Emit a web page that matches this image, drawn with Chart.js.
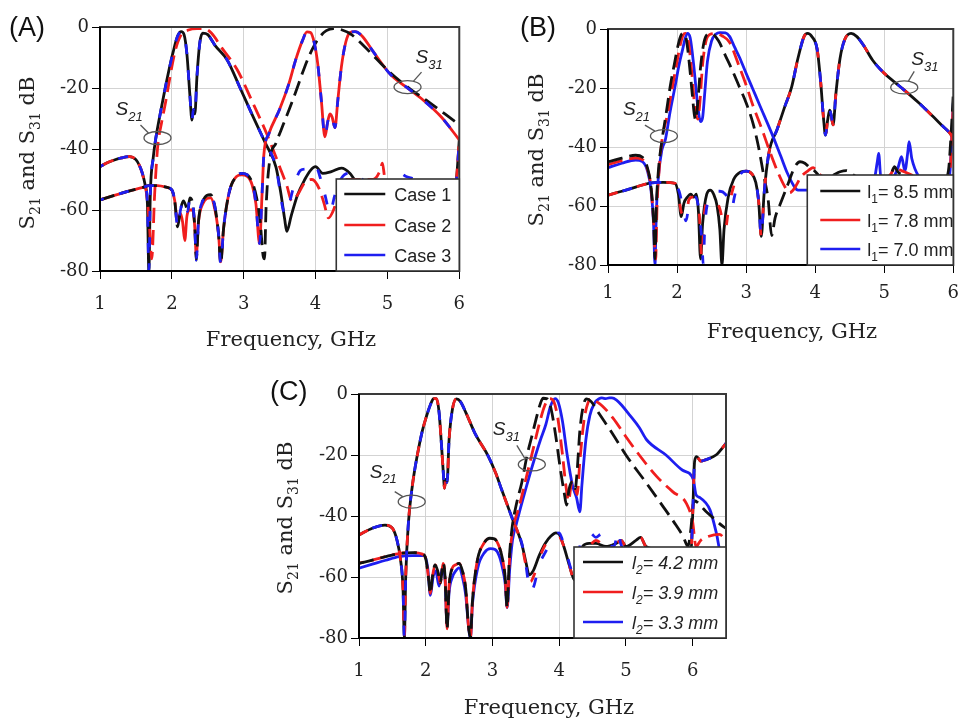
<!DOCTYPE html>
<html lang="en">
<head>
<meta charset="UTF-8" />
<title>S21 and S31 responses</title>
<script src="https://cdn.jsdelivr.net/npm/chart.js"></script>
<style>
  body { margin: 0; background: #fff; }
  .panel { position: absolute; }
  canvas { display: block; }
</style>
</head>
<body>
<div class="panel" style="left:0;top:0"><canvas id="chartA" width="480" height="360"></canvas></div>
<div class="panel" style="left:490px;top:0"><canvas id="chartB" width="479" height="360"></canvas></div>
<div class="panel" style="left:260px;top:360px"><canvas id="chartC" width="480" height="358"></canvas></div>

<script>
// ---- data: [frequency GHz, dB] ----

// (A) Case 1 / 2 / 3
const aS21Case1 = [[1.0,-45.8],[1.1,-44.5],[1.2,-43.6],[1.3,-42.9],[1.41,-42.5],[1.5,-43.5],[1.55,-45.5],[1.59,-48],[1.63,-52],[1.66,-58],[1.68,-80],[1.7,-55],[1.74,-43],[1.78,-36],[1.85,-27],[1.95,-15.2],[2.02,-8],[2.08,-3],[2.13,-1.5],[2.17,-2.5],[2.21,-9],[2.25,-22],[2.28,-30.5],[2.3,-27],[2.32,-28.5],[2.35,-16],[2.39,-5],[2.43,-2],[2.5,-2.5],[2.6,-6],[2.77,-10.8],[2.95,-20],[3.13,-29.4],[3.3,-38],[3.45,-46],[3.52,-55],[3.57,-63],[3.6,-67],[3.66,-62],[3.75,-55],[3.85,-50],[3.93,-47],[4.0,-45.8],[4.1,-48],[4.22,-47.4],[4.36,-46.3],[4.48,-48],[4.6,-52],[4.8,-55],[5.1,-57],[5.4,-56],[5.7,-55],[5.9,-54],[5.96,-50],[6.0,-37]];
const aS21Case2 = [[1.0,-45.8],[1.1,-44.5],[1.2,-43.6],[1.3,-42.9],[1.41,-42.5],[1.5,-43.5],[1.56,-46],[1.61,-50],[1.66,-57],[1.69,-66],[1.72,-76],[1.76,-55],[1.8,-40],[1.86,-31],[1.91,-25],[2.0,-13],[2.05,-7.5],[2.12,-3],[2.23,-1],[2.35,-0.5],[2.45,-0.5],[2.55,-2],[2.7,-7],[2.91,-14],[3.1,-23.5],[3.32,-35],[3.5,-45.8],[3.6,-52],[3.67,-57],[3.75,-55],[3.85,-51],[3.95,-50],[4.05,-53],[4.12,-58],[4.18,-62.6],[4.25,-60],[4.33,-54],[4.42,-50],[4.6,-50],[4.8,-50],[4.9,-47],[4.93,-44.6],[4.96,-49],[5.05,-55],[5.3,-57],[5.6,-56],[5.9,-54],[5.96,-50],[6.0,-37]];
const aS21Case3 = [[1.0,-45.8],[1.1,-44.5],[1.2,-43.6],[1.3,-42.9],[1.41,-42.5],[1.5,-43.5],[1.55,-45.5],[1.59,-48],[1.63,-52],[1.66,-58],[1.68,-80],[1.7,-55],[1.74,-43],[1.78,-36],[1.85,-27],[1.95,-15.2],[2.02,-8],[2.08,-3],[2.13,-1.5],[2.17,-2.5],[2.21,-9],[2.25,-22],[2.28,-30.5],[2.3,-27],[2.32,-28.5],[2.35,-16],[2.39,-5],[2.43,-2],[2.5,-2.5],[2.6,-6],[2.77,-10.8],[2.95,-20],[3.13,-29.4],[3.3,-38],[3.45,-46],[3.5,-53],[3.54,-59],[3.57,-61],[3.62,-59],[3.7,-52],[3.79,-47],[3.87,-46.5],[3.93,-46],[4.0,-45.5],[4.06,-49],[4.13,-55],[4.2,-60.6],[4.27,-55],[4.35,-50],[4.45,-48],[4.55,-48],[4.65,-50],[4.8,-52],[5.0,-53],[5.1,-50],[5.18,-48],[5.26,-49],[5.4,-50],[5.6,-52],[5.9,-52],[5.96,-50],[6.0,-37]];
const aS31Case1 = [[1.0,-56.7],[1.2,-55.2],[1.4,-53.8],[1.6,-52.6],[1.68,-52],[1.8,-52],[1.92,-52.5],[2.0,-53.4],[2.04,-57],[2.08,-65.5],[2.12,-60],[2.16,-57],[2.2,-59],[2.22,-60.5],[2.25,-56],[2.29,-58],[2.32,-66],[2.34,-76.4],[2.37,-64],[2.43,-57],[2.54,-55],[2.6,-59],[2.65,-68],[2.68,-77.5],[2.72,-66],[2.8,-54],[2.9,-49],[2.97,-48],[3.05,-48.5],[3.12,-51],[3.18,-56],[3.23,-64],[3.27,-75],[3.29,-76],[3.31,-60],[3.36,-44],[3.45,-38],[3.55,-32],[3.65,-26],[3.75,-19.6],[3.85,-13],[3.95,-7.5],[4.05,-3.5],[4.15,-1.2],[4.25,-0.5],[4.35,-0.8],[4.5,-2.5],[4.68,-6.4],[4.85,-10.5],[5.04,-15],[5.3,-20],[5.54,-24],[5.8,-28.5],[6.0,-32]];
const aS31Case2 = [[1.0,-56.7],[1.2,-55.2],[1.4,-53.8],[1.6,-52.6],[1.68,-52],[1.8,-52],[1.92,-52.5],[2.0,-53.5],[2.04,-57],[2.08,-64],[2.12,-61],[2.15,-64],[2.18,-70],[2.21,-62],[2.25,-60],[2.29,-60],[2.32,-66],[2.34,-75],[2.37,-64],[2.43,-58],[2.54,-56],[2.6,-60],[2.65,-68],[2.68,-77],[2.72,-66],[2.8,-54],[2.9,-49],[2.97,-48.5],[3.05,-49],[3.12,-52],[3.17,-58],[3.22,-71],[3.255,-55],[3.28,-42],[3.35,-35],[3.5,-27],[3.63,-18.5],[3.72,-11],[3.82,-4.3],[3.88,-1.6],[3.93,-1.8],[3.98,-5],[4.03,-12],[4.08,-24],[4.13,-36],[4.17,-31],[4.2,-28.5],[4.23,-29.5],[4.27,-33],[4.31,-24],[4.36,-13],[4.42,-5],[4.48,-1.8],[4.55,-1.5],[4.65,-3],[4.8,-8],[5.04,-15.5],[5.25,-19.5],[5.5,-24],[5.75,-29.5],[6.0,-37]];
const aS31Case3 = [[1.0,-56.7],[1.2,-55.2],[1.4,-53.8],[1.6,-52.6],[1.68,-52],[1.8,-52],[1.92,-52.5],[2.0,-53.4],[2.04,-57],[2.08,-65.5],[2.12,-60],[2.16,-57],[2.2,-59],[2.22,-60.5],[2.25,-56],[2.29,-58],[2.32,-66],[2.34,-76.4],[2.37,-64],[2.43,-57],[2.54,-55],[2.6,-59],[2.65,-68],[2.68,-77.5],[2.72,-66],[2.8,-54],[2.9,-49],[2.97,-48],[3.05,-48.5],[3.12,-51],[3.17,-58],[3.22,-71],[3.255,-55],[3.28,-42],[3.35,-35],[3.5,-27],[3.63,-18.5],[3.72,-11],[3.82,-4.3],[3.88,-1.6],[3.93,-1.8],[3.98,-5],[4.03,-12],[4.08,-24],[4.13,-36],[4.17,-31],[4.2,-28.5],[4.23,-29.5],[4.27,-33],[4.31,-24],[4.36,-13],[4.42,-5],[4.48,-1.8],[4.55,-1.5],[4.65,-3],[4.8,-8],[5.04,-15.5],[5.25,-19.5],[5.5,-24],[5.75,-29.5],[6.0,-37]];

// (B) l1 = 8.5 / 7.8 / 7.0 mm
const bS21Case1 = [[1.0,-45],[1.2,-43.8],[1.4,-42.8],[1.5,-43.5],[1.57,-47],[1.62,-53],[1.66,-65],[1.68,-78],[1.7,-60],[1.73,-48],[1.78,-38],[1.84,-29],[1.9,-19.6],[1.96,-12],[2.02,-5],[2.06,-2],[2.09,-1.5],[2.13,-3],[2.17,-10],[2.22,-22],[2.25,-29],[2.27,-30.8],[2.3,-25],[2.34,-13],[2.39,-4.5],[2.44,-1.8],[2.5,-1.6],[2.6,-4],[2.7,-9],[2.8,-14],[2.9,-19.5],[3.0,-25],[3.1,-32],[3.18,-40],[3.25,-49],[3.32,-58],[3.37,-70],[3.42,-64],[3.5,-59],[3.6,-53],[3.7,-47],[3.78,-45],[3.85,-45.5],[3.92,-47],[3.98,-47.8],[4.08,-50],[4.2,-50],[4.36,-48.4],[4.45,-48],[4.59,-50],[4.75,-51],[5.0,-51],[5.1,-49],[5.15,-46.7],[5.2,-48.5],[5.35,-50],[5.6,-52],[5.85,-52],[5.93,-48],[5.97,-35],[6.0,-22]];
const bS21Case2 = [[1.0,-46],[1.2,-44.6],[1.4,-43.8],[1.5,-44.3],[1.57,-47.5],[1.62,-53],[1.66,-65],[1.69,-78],[1.71,-60],[1.74,-48],[1.78,-38],[1.86,-29],[1.93,-20],[2.0,-11],[2.05,-5],[2.09,-2],[2.12,-1.5],[2.16,-3.5],[2.21,-14],[2.26,-27],[2.3,-30.5],[2.33,-25],[2.37,-12],[2.42,-4],[2.48,-1.8],[2.56,-1.5],[2.65,-2.3],[2.76,-4.5],[2.9,-12.7],[3.0,-19],[3.1,-26],[3.23,-34],[3.35,-42],[3.45,-48],[3.55,-53],[3.63,-55.5],[3.7,-54],[3.8,-50],[3.9,-48],[3.97,-47],[4.05,-49],[4.2,-51],[4.36,-50],[4.5,-50],[4.7,-51],[5.0,-51],[5.1,-49],[5.15,-47],[5.25,-48],[5.35,-49],[5.45,-50],[5.7,-52],[5.9,-52],[5.95,-49],[6.0,-25]];
const bS21Case3 = [[1.0,-47],[1.2,-45.5],[1.4,-44.4],[1.5,-45],[1.57,-48],[1.62,-54],[1.66,-66],[1.68,-80],[1.7,-62],[1.73,-50],[1.78,-41],[1.83,-37.6],[1.9,-28],[1.97,-19.6],[2.03,-12],[2.08,-7],[2.12,-3],[2.15,-1.5],[2.19,-3],[2.24,-12],[2.3,-26],[2.34,-31.4],[2.37,-30],[2.4,-22],[2.44,-11],[2.5,-4],[2.56,-1.8],[2.62,-1.2],[2.7,-1.3],[2.76,-2.5],[2.83,-6],[2.9,-9.4],[3.0,-15],[3.1,-20.5],[3.2,-26],[3.37,-35.3],[3.5,-43],[3.6,-49],[3.7,-53.5],[3.75,-54.6],[3.85,-54.6],[3.95,-54.5],[4.05,-54],[4.2,-52.5],[4.4,-51],[4.6,-51],[4.85,-51],[4.9,-45],[4.92,-42.2],[4.95,-50],[5.1,-51],[5.2,-47],[5.25,-43.3],[5.3,-48],[5.34,-42],[5.36,-38.2],[5.4,-44],[5.5,-50],[5.7,-53],[5.9,-53],[5.95,-49],[6.0,-25]];
const bS31Case1 = [[1.0,-56.3],[1.2,-55],[1.4,-53.6],[1.59,-52.3],[1.8,-52],[1.97,-52.3],[2.02,-56],[2.06,-63.6],[2.1,-59],[2.15,-57],[2.2,-56],[2.24,-57],[2.28,-56],[2.31,-62],[2.34,-78],[2.37,-66],[2.43,-56],[2.48,-54.6],[2.53,-56],[2.58,-60],[2.62,-68],[2.65,-80],[2.68,-68],[2.74,-57],[2.82,-51],[2.92,-48.5],[3.0,-48.2],[3.08,-49],[3.14,-52],[3.18,-58],[3.22,-70.3],[3.26,-56],[3.33,-42],[3.45,-34],[3.55,-27],[3.66,-19.6],[3.75,-10],[3.84,-2.5],[3.89,-1.5],[3.95,-2.5],[4.03,-7],[4.08,-18],[4.12,-30],[4.15,-36],[4.18,-31],[4.21,-27.5],[4.23,-29],[4.26,-32.5],[4.3,-22],[4.36,-10],[4.43,-3.5],[4.52,-1.5],[4.6,-2.5],[4.7,-5.5],[4.83,-10.5],[5.0,-15],[5.15,-18],[5.29,-20.7],[5.5,-25],[5.7,-29.5],[5.85,-33],[5.95,-35.3],[6.0,-37]];
const bS31Case2 = [[1.0,-56.3],[1.2,-55],[1.4,-53.6],[1.59,-52.3],[1.8,-52],[1.97,-52.3],[2.02,-56],[2.06,-62],[2.1,-63],[2.13,-64],[2.17,-58],[2.22,-57],[2.27,-57],[2.32,-62],[2.36,-78],[2.39,-64],[2.44,-58],[2.5,-57.5],[2.56,-58],[2.62,-61],[2.67,-66],[2.7,-68],[2.74,-62],[2.8,-55],[2.9,-49],[3.0,-48.2],[3.08,-49],[3.14,-52],[3.18,-58],[3.22,-70.3],[3.26,-56],[3.33,-42],[3.45,-34],[3.55,-27],[3.66,-19.6],[3.75,-10],[3.84,-2.5],[3.89,-1.5],[3.95,-2.5],[4.03,-7],[4.08,-18],[4.12,-30],[4.15,-36],[4.18,-31],[4.21,-27.5],[4.23,-29],[4.26,-32.5],[4.3,-22],[4.36,-10],[4.43,-3.5],[4.52,-1.5],[4.6,-2.5],[4.7,-5.5],[4.83,-10.5],[5.0,-15],[5.15,-18],[5.29,-20.7],[5.5,-25],[5.7,-29.5],[5.85,-33],[5.95,-35.3],[6.0,-37]];
const bS31Case3 = [[1.0,-56.3],[1.2,-55],[1.4,-53.6],[1.59,-52.3],[1.8,-52],[1.97,-52.5],[2.03,-55],[2.08,-60],[2.13,-65],[2.17,-60],[2.22,-57],[2.27,-57],[2.32,-62],[2.36,-72],[2.38,-80],[2.4,-68],[2.45,-58],[2.5,-56],[2.56,-55],[2.62,-55],[2.7,-56],[2.75,-58],[2.79,-61],[2.83,-57],[2.9,-50],[3.0,-48.2],[3.08,-49],[3.14,-52],[3.18,-58],[3.22,-70.3],[3.26,-56],[3.33,-42],[3.45,-34],[3.55,-27],[3.66,-19.6],[3.75,-10],[3.84,-2.5],[3.89,-1.5],[3.95,-2.5],[4.03,-7],[4.08,-18],[4.12,-30],[4.15,-36],[4.18,-31],[4.21,-27.5],[4.23,-29],[4.26,-32.5],[4.3,-22],[4.36,-10],[4.43,-3.5],[4.52,-1.5],[4.6,-2.5],[4.7,-5.5],[4.83,-10.5],[5.0,-15],[5.15,-18],[5.29,-20.7],[5.5,-25],[5.7,-29.5],[5.85,-33],[5.95,-35.3],[6.0,-37]];

// (C) l2 = 4.2 / 3.9 / 3.3 mm
const cS21Case1 = [[1.0,-46.2],[1.2,-44],[1.39,-43],[1.5,-44],[1.57,-48],[1.62,-54],[1.66,-64],[1.68,-80],[1.7,-60],[1.74,-42.4],[1.8,-30],[1.87,-20.5],[1.95,-12],[2.01,-7.4],[2.07,-3.5],[2.12,-1.5],[2.16,-1.5],[2.2,-6],[2.24,-18],[2.27,-28],[2.28,-30.9],[2.3,-28],[2.32,-29],[2.35,-15],[2.4,-5],[2.46,-1.6],[2.52,-2.5],[2.6,-6],[2.74,-13],[2.94,-20.5],[3.05,-26],[3.14,-31.5],[3.29,-40.4],[3.44,-49.2],[3.5,-55],[3.55,-59.3],[3.61,-58],[3.7,-53],[3.79,-49],[3.88,-46.5],[3.95,-45.5],[4.0,-46],[4.07,-50],[4.15,-56],[4.23,-61],[4.29,-56],[4.35,-50],[4.45,-49],[4.55,-49],[4.7,-50],[4.85,-49],[4.93,-48],[5.0,-50],[5.15,-48],[5.22,-47],[5.3,-50],[5.5,-51],[5.7,-51],[5.9,-51],[5.98,-50],[6.0,-40],[6.03,-22],[6.06,-20.5],[6.12,-22],[6.2,-21.5],[6.35,-20],[6.5,-16.2]];
const cS21Case2 = [[1.0,-46.2],[1.2,-44],[1.39,-43],[1.5,-44],[1.57,-48],[1.62,-54],[1.66,-64],[1.68,-80],[1.7,-60],[1.74,-42.4],[1.8,-30],[1.87,-20.5],[1.95,-12],[2.01,-7.4],[2.07,-3.5],[2.12,-1.5],[2.16,-1.5],[2.2,-6],[2.24,-18],[2.27,-28],[2.28,-30.9],[2.3,-28],[2.32,-29],[2.35,-15],[2.4,-5],[2.46,-1.6],[2.52,-2.5],[2.6,-6],[2.74,-13],[2.94,-20.5],[3.05,-26],[3.14,-31.5],[3.29,-40.4],[3.44,-49.5],[3.5,-56],[3.57,-61.5],[3.63,-59],[3.7,-54],[3.79,-49.5],[3.88,-47],[3.95,-46],[4.0,-46.5],[4.07,-50],[4.15,-56],[4.23,-61],[4.29,-56],[4.35,-50],[4.45,-49.5],[4.55,-48],[4.7,-50],[4.85,-49],[4.93,-48],[5.0,-50],[5.15,-48],[5.22,-47],[5.3,-50],[5.5,-51],[5.7,-51],[5.9,-51],[5.98,-50],[6.0,-40],[6.03,-22],[6.06,-20.5],[6.12,-22],[6.2,-21.5],[6.35,-20],[6.5,-16.2]];
const cS21Case3 = [[1.0,-46.2],[1.2,-44],[1.39,-43],[1.5,-44],[1.57,-48],[1.62,-54],[1.66,-64],[1.68,-80],[1.7,-60],[1.74,-42.4],[1.8,-30],[1.87,-20.5],[1.95,-12],[2.01,-7.4],[2.07,-3.5],[2.12,-1.5],[2.16,-1.5],[2.2,-6],[2.24,-18],[2.27,-28],[2.28,-30.9],[2.3,-28],[2.32,-29],[2.35,-15],[2.4,-5],[2.46,-1.6],[2.52,-2.5],[2.6,-6],[2.74,-13],[2.94,-20.5],[3.05,-26],[3.14,-31.5],[3.29,-40.4],[3.44,-49],[3.5,-56],[3.57,-64.8],[3.62,-63],[3.7,-56],[3.8,-51.6],[3.88,-48],[3.95,-46],[4.0,-45.5],[4.05,-48],[4.12,-53],[4.2,-58],[4.25,-57],[4.32,-49],[4.4,-46],[4.47,-45.7],[4.55,-47],[4.62,-46],[4.71,-45.5],[4.75,-49],[4.82,-50],[4.87,-46],[4.89,-44.6],[4.92,-49],[5.0,-51],[5.3,-52],[5.6,-52],[5.9,-52],[5.98,-50],[6.0,-40],[6.03,-22],[6.06,-20.5],[6.12,-22],[6.2,-21.5],[6.35,-20],[6.5,-16.2]];
const cS31Case1 = [[1.0,-55.5],[1.2,-54.5],[1.4,-53.3],[1.6,-52.3],[1.8,-52],[1.95,-52.5],[2.0,-54],[2.04,-60],[2.07,-65.4],[2.1,-60],[2.14,-56],[2.18,-58],[2.22,-62],[2.26,-55.5],[2.29,-60],[2.32,-77],[2.35,-63],[2.4,-57],[2.45,-56],[2.5,-55.5],[2.55,-58],[2.6,-64],[2.64,-76],[2.67,-80],[2.7,-68],[2.77,-55],[2.87,-49],[2.96,-47.3],[3.03,-47.5],[3.1,-50],[3.15,-54],[3.19,-60],[3.22,-70],[3.25,-55],[3.29,-44.6],[3.36,-36],[3.44,-29],[3.52,-20],[3.6,-13],[3.68,-6],[3.72,-3],[3.76,-1.4],[3.82,-1.6],[3.88,-5],[3.95,-14],[4.02,-25],[4.08,-33],[4.11,-36.4],[4.15,-31],[4.2,-28.7],[4.24,-31],[4.27,-25],[4.31,-12],[4.36,-4],[4.41,-1.6],[4.48,-2.5],[4.6,-6.5],[4.8,-13],[5.0,-20],[5.3,-29],[5.56,-37],[5.72,-42],[5.86,-46.8],[5.93,-50],[5.97,-45],[6.02,-35],[6.2,-38.5],[6.46,-43.5],[6.5,-44]];
const cS31Case2 = [[1.0,-55.5],[1.2,-54.5],[1.4,-53.3],[1.6,-52.3],[1.8,-52],[1.95,-52.5],[2.0,-54],[2.04,-60],[2.07,-65.4],[2.1,-60],[2.14,-56],[2.18,-58],[2.22,-62],[2.26,-55.5],[2.29,-60],[2.32,-77],[2.35,-63],[2.4,-57],[2.45,-56],[2.5,-55.5],[2.55,-58],[2.6,-64],[2.64,-76],[2.67,-80],[2.7,-68],[2.77,-55],[2.87,-49],[2.96,-47.3],[3.03,-47.5],[3.1,-50],[3.15,-54],[3.19,-60],[3.22,-70],[3.26,-53],[3.31,-44],[3.4,-37],[3.5,-28],[3.6,-19],[3.7,-10],[3.78,-4],[3.86,-1.5],[3.92,-2.5],[3.98,-8],[4.05,-20],[4.1,-30],[4.14,-35],[4.19,-29],[4.23,-30],[4.27,-33],[4.31,-22],[4.37,-9],[4.43,-3],[4.49,-1.5],[4.56,-2.5],[4.65,-4],[4.81,-8],[5.0,-14],[5.2,-20],[5.46,-27],[5.7,-32],[5.91,-36],[6.0,-42],[6.05,-50],[6.12,-48],[6.2,-47],[6.4,-46],[6.5,-48]];
const cS31Case3 = [[1.0,-57.1],[1.2,-55.8],[1.4,-54.5],[1.6,-53.3],[1.8,-53],[1.98,-53],[2.03,-57],[2.07,-66],[2.11,-60],[2.15,-58],[2.2,-63],[2.25,-57],[2.29,-61],[2.32,-76],[2.35,-65],[2.4,-60],[2.45,-58],[2.5,-57],[2.55,-60],[2.6,-66],[2.64,-76],[2.67,-80],[2.7,-69],[2.78,-57],[2.88,-52],[2.97,-50.7],[3.04,-51],[3.1,-53],[3.15,-57],[3.19,-62],[3.22,-70],[3.26,-57],[3.3,-48],[3.36,-42.4],[3.5,-31],[3.64,-20.5],[3.72,-15],[3.8,-10],[3.87,-4],[3.94,-1.5],[3.99,-3],[4.05,-9],[4.12,-20],[4.2,-30],[4.26,-34],[4.31,-38.6],[4.34,-30],[4.4,-15],[4.46,-7],[4.53,-3],[4.6,-1.5],[4.64,-1.3],[4.7,-1.5],[4.75,-1.3],[4.79,-1.3],[4.86,-2],[4.95,-4],[5.06,-7],[5.2,-11],[5.31,-15],[5.6,-20],[5.85,-25],[6.01,-28],[6.05,-33],[6.11,-34],[6.26,-38],[6.36,-46],[6.42,-52],[6.5,-52]];

// axis ticks and labels
const xTicksStep = 1;
const yTicks = [-80, -60, -40, -20, 0];
const yTitleParts = [{t:'S'},{t:'21',sub:true},{t:' and S'},{t:'31',sub:true},{t:' dB'}];
const xTitle = 'Frequency, GHz';
const legendA = [[{t:'Case 1'}],[{t:'Case 2'}],[{t:'Case 3'}]];
const legendB = [[{t:'l'},{t:'1',sub:true},{t:'= 8.5 mm'}],[{t:'l'},{t:'1',sub:true},{t:'= 7.8 mm'}],[{t:'l'},{t:'1',sub:true},{t:'= 7.0 mm'}]];
const legendC = [[{t:'l'},{t:'2',sub:true},{t:'= 4.2 mm'}],[{t:'l'},{t:'2',sub:true},{t:'= 3.9 mm'}],[{t:'l'},{t:'2',sub:true},{t:'= 3.3 mm'}]];
// ellipse callouts in data coordinates
const notesA = [{f:1.8, db:-36.4, sub:'21'}, {f:5.28, db:-19.7, sub:'31'}];
const notesB = [{f:1.81, db:-36.3, sub:'21'}, {f:5.29, db:-19.8, sub:'31'}];
const notesC = [{f:1.79, db:-35.3, sub:'21'}, {f:3.59, db:-23.1, sub:'31'}];

const BLACK = '#111', RED = '#f01e1e', BLUE = '#1e1ef0';
const SERIF = '"DejaVu Serif", serif', SANS = '"Liberation Sans", Arial, sans-serif';

function measureParts(ctx, parts, size, fam, style) {
  let w = 0;
  parts.forEach(p => {
    ctx.font = style + ' ' + (p.sub ? Math.round(size * 0.68) : size) + 'px ' + fam;
    w += ctx.measureText(p.t).width;
  });
  return w;
}
function drawParts(ctx, parts, x, y, size, fam, style) {
  let cx = x;
  parts.forEach(p => {
    ctx.font = style + ' ' + (p.sub ? Math.round(size * 0.68) : size) + 'px ' + fam;
    ctx.fillText(p.t, cx, p.sub ? y + size * 0.3 : y);
    cx += ctx.measureText(p.t).width;
  });
}

const decor = {
  id: 'decor',
  afterDatasetsDraw(chart, args, o) {
    const {ctx, chartArea: a, scales: {x, y}} = chart;
    ctx.save();
    ctx.textBaseline = 'alphabetic';
    // frame
    ctx.lineWidth = 2;
    ctx.strokeStyle = '#3a3a3a';
    ctx.strokeRect(a.left, a.top, a.right - a.left, a.bottom - a.top);
    ctx.strokeStyle = '#000';
    ctx.beginPath();
    ctx.moveTo(a.left, a.top); ctx.lineTo(a.left, a.bottom); ctx.lineTo(a.right, a.bottom);
    ctx.stroke();

    // callouts
    o.notes.forEach((n, i) => {
      const g = o.noteGeo[i];
      const cx = x.getPixelForValue(n.f), cy = y.getPixelForValue(n.db);
      ctx.strokeStyle = '#555';
      ctx.lineWidth = 1.3;
      ctx.beginPath();
      ctx.ellipse(cx, cy, 13.5, 6.5, 0, 0, Math.PI * 2);
      ctx.stroke();
      ctx.beginPath();
      ctx.moveTo(cx + g.lead[0], cy + g.lead[1]);
      ctx.lineTo(cx + g.lead[2], cy + g.lead[3]);
      ctx.stroke();
      ctx.fillStyle = '#222';
      drawParts(ctx, [{t:'S'},{t:n.sub,sub:true}], cx + g.dx, cy + g.dy, 19, SANS, 'italic');
    });

    // legend box (bottom-right inside plot)
    const L = o.legend;
    const lx = a.right - L.w, ly = a.bottom - L.h;
    ctx.fillStyle = '#fff';
    ctx.fillRect(lx, ly, L.w, L.h);
    ctx.lineWidth = 1.6;
    ctx.strokeStyle = '#333';
    ctx.strokeRect(lx, ly, L.w, L.h);
    L.items.forEach((parts, i) => {
      const ry = ly + L.rows[i];
      ctx.strokeStyle = [BLACK, RED, BLUE][i];
      ctx.lineWidth = 2.6;
      ctx.beginPath();
      ctx.moveTo(lx + L.line[0], ry); ctx.lineTo(lx + L.line[1], ry);
      ctx.stroke();
      ctx.fillStyle = '#222';
      drawParts(ctx, parts, lx + L.text, ry + 6.5, 18, SANS, L.italic ? 'italic' : 'normal');
    });

    // panel label
    ctx.fillStyle = '#111';
    ctx.font = '27px ' + SANS;
    ctx.fillText(o.label, o.labelX, o.labelY);

    // x title
    ctx.fillStyle = '#222';
    ctx.font = '21px ' + SERIF;
    ctx.textAlign = 'center';
    ctx.fillText(xTitle, o.xTitleX, o.xTitleY);
    ctx.textAlign = 'left';

    // y title, rotated, with subscripts
    const w = measureParts(ctx, yTitleParts, 21, SERIF, 'normal');
    ctx.translate(o.yTitleX, o.yTitleY);
    ctx.rotate(-Math.PI / 2);
    drawParts(ctx, yTitleParts, -w / 2, 0, 21, SERIF, 'normal');
    ctx.restore();
  }
};

function line(pts, color, dash, order, offset) {
  return {
    data: pts.map(p => ({x: p[0], y: p[1]})),
    borderColor: color,
    borderWidth: 2.8,
    borderDash: dash || [],
    borderDashOffset: offset || 0,
    borderCapStyle: 'butt',
    borderJoinStyle: 'round',
    pointRadius: 0,
    fill: false,
    cubicInterpolationMode: 'monotone',
    order: order
  };
}

function axes(xMax, yWidth, xHeight, xPad) {
  const grid = {color: '#d3d3d3', tickColor: '#000', tickLength: 8, lineWidth: 1};
  const tickFont = {family: SERIF, size: 18};
  return {
    x: {
      type: 'linear', min: 1, max: xMax,
      afterFit: s => { s.height = xHeight; },
      ticks: {stepSize: xTicksStep, includeBounds: false, padding: xPad, font: tickFont, color: '#222', maxRotation: 0},
      grid: grid,
      border: {color: '#000', width: 2}
    },
    y: {
      type: 'linear', min: yTicks[0], max: yTicks[yTicks.length - 1],
      afterFit: s => { s.width = yWidth; },
      ticks: {stepSize: 20, padding: 3, font: tickFont, color: '#222'},
      grid: grid,
      border: {color: '#000', width: 2}
    }
  };
}

function makeChart(id, datasets, sc, pad, deco) {
  return new Chart(document.getElementById(id), {
    type: 'line',
    data: {datasets: datasets},
    options: {
      responsive: false,
      animation: false,
      devicePixelRatio: 1,
      events: [],
      layout: {padding: pad, autoPadding: false},
      scales: sc,
      plugins: {legend: {display: false}, tooltip: {enabled: false}, decor: deco}
    },
    plugins: [decor]
  });
}

// (A)
makeChart('chartA', [
  line(aS21Case1, BLACK, [], 6),
  line(aS31Case2, RED, [], 5),
  line(aS21Case2, RED, [15, 7], 4),
  line(aS31Case1, BLACK, [15, 7], 3),
  line(aS21Case3, BLUE, [10, 16], 2, 6),
  line(aS31Case3, BLUE, [10, 16], 1, 6)
], axes(6, 100, 89, 15), {top: 27, right: 13, left: 0, bottom: 0}, {
  label: '(A)', labelX: 9, labelY: 36,
  xTitleX: 291, xTitleY: 346, yTitleX: 34, yTitleY: 153,
  notes: notesA,
  noteGeo: [{dx: -42, dy: -23, lead: [-17, -13, -9, -5]}, {dx: 8, dy: -24, lead: [6, -6, 14, -15]}],
  legend: {w: 123, h: 92, line: [8, 49], text: 58, rows: [15, 46, 76], items: legendA, italic: false}
});

// (B)
makeChart('chartB', [
  line(bS31Case1, BLACK, [], 6),
  line(bS21Case3, BLUE, [], 5),
  line(bS21Case2, RED, [15, 7], 4),
  line(bS21Case1, BLACK, [15, 7], 3),
  line(bS31Case2, RED, [10, 20], 2, 0),
  line(bS31Case3, BLUE, [10, 20], 1, 15)
], axes(6, 118, 95, 10), {top: 29, right: 6, left: 0, bottom: 0}, {
  label: '(B)', labelX: 30, labelY: 36,
  xTitleX: 302, xTitleY: 338, yTitleX: 53, yTitleY: 150,
  notes: notesB,
  noteGeo: [{dx: -41, dy: -21, lead: [-19, -11, -9, -5]}, {dx: 7, dy: -22, lead: [4, -6, 10, -16]}],
  legend: {w: 146, h: 90, line: [13, 53], text: 60, rows: [16, 45, 74], items: legendB, italic: false}
});

// (C)
makeChart('chartC', [
  line(cS21Case1, BLACK, [], 6),
  line(cS31Case3, BLUE, [], 5),
  line(cS31Case2, RED, [15, 7], 4, 10),
  line(cS31Case1, BLACK, [15, 7], 3),
  line(cS21Case2, RED, [10, 20], 2, 0),
  line(cS21Case3, BLUE, [10, 20], 1, 15)
], axes(6.5, 99, 80, 15), {top: 34, right: 14, left: 0, bottom: 0}, {
  label: '(C)', labelX: 10, labelY: 40,
  xTitleX: 289, xTitleY: 354, yTitleX: 32, yTitleY: 158,
  notes: notesC,
  noteGeo: [{dx: -42, dy: -24, lead: [-17, -10, -9, -5]}, {dx: -39, dy: -29, lead: [-15, -19, -7, -6]}],
  legend: {w: 152, h: 91, line: [9, 49], text: 58, rows: [15, 45, 75], items: legendC, italic: true}
});
</script>
</body>
</html>
